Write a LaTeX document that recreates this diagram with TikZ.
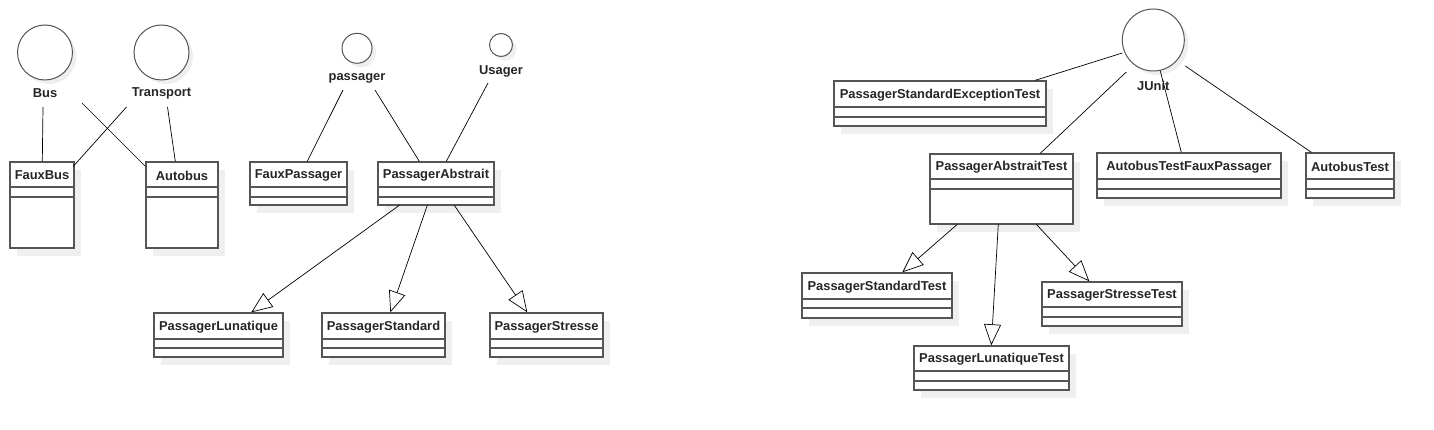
\documentclass[tikz,border=0pt]{standalone}
\usepackage{fontspec}
\setmainfont{Liberation Sans}
\usetikzlibrary{arrows.meta,calc}
\definecolor{shadowc}{HTML}{EFEFEF}
\definecolor{edgec}{HTML}{555555}
\tikzset{
  clsbox/.style={draw=edgec, line width=1.4pt, fill=white, inner sep=0pt, rectangle},
  clstext/.style={inner sep=0pt, font=\fontsize{12.9}{15}\selectfont\bfseries, text=black!85},
  clsline/.style={draw=edgec, line width=1.4pt},
  iface/.style={draw=edgec, line width=1pt, fill=white, circle, inner sep=0pt},
  ifshadow/.style={fill=shadowc, circle, inner sep=0pt},
  iflabel/.style={inner sep=0pt, font=\fontsize{12.9}{15}\selectfont\bfseries, text=black!85},
  assoc/.style={draw=black, line width=0.7pt},
  gen/.style={draw=black, line width=0.7pt, -{Triangle[open, length=21pt, width=17pt, fill=white]}},
}
\newcommand\umlcls[8]{%
  \fill[shadowc] (#2+7,#3+8) rectangle (#4+7,#5+8);
  \node[clsbox, minimum width={#4-#2}, minimum height={#5-#3}] (#1) at ({(#2+#4)/2},{(#3+#5)/2}) {};
  \node[clstext] (#1-t) at ({(#2+#4)/2},{(#3+#6)/2+1}) {#8};
  \draw[clsline] (#2,#6) -- (#4,#6);
  \draw[clsline] (#2,#7) -- (#4,#7);
}
\newcommand\umlif[6]{% name, cx, cy, r, label y, label
  \node[ifshadow, minimum size={2*#4}] at (#2+4,#3+4) {};
  \node[iface, minimum size={2*#4}] (#1) at (#2,#3) {};
  \node[iflabel] (#1-l) at (#2,#5) {#6};
}
\begin{document}
\begin{tikzpicture}[x=1pt,y=-1pt]
\useasboundingbox (0,0) rectangle (1434,430);

% interfaces
\umlif{bus}{45}{52.5}{27.5}{93}{Bus}
\umlif{transport}{161.5}{52.5}{27.5}{93}{Transport}
\umlif{passager}{357}{48.3}{15}{78}{passager}
\umlif{usager}{501}{45}{11.5}{71}{Usager}
\umlif{junit}{1153.3}{40}{31}{86}{JUnit}

% classes
\umlcls{fauxbus}{10}{162}{74}{248}{187}{197}{FauxBus}
\umlcls{autobus}{146}{162}{218}{248}{187}{197}{Autobus}
\umlcls{fauxpassager}{250}{162}{347}{205}{187}{197}{FauxPassager}
\umlcls{pabs}{378}{162}{494}{205}{187}{197}{PassagerAbstrait}
\umlcls{plun}{154}{313}{283}{357}{339}{348}{PassagerLunatique}
\umlcls{pstd}{322}{313}{445}{357}{339}{348}{PassagerStandard}
\umlcls{pstr}{490}{313}{603}{357}{339}{348}{PassagerStresse}
\umlcls{pset}{834}{81}{1046}{126}{107}{117}{PassagerStandardExceptionTest}
\umlcls{pat}{930}{154}{1073}{224}{179}{189}{PassagerAbstraitTest}
\umlcls{atfp}{1097}{153}{1281}{198}{179}{189}{AutobusTestFauxPassager}
\umlcls{at}{1306}{153}{1394}{198}{179}{189}{AutobusTest}
\umlcls{pst}{802}{273}{952}{318}{299}{308}{PassagerStandardTest}
\umlcls{pstrt}{1042}{282}{1182}{326}{307}{317}{PassagerStresseTest}
\umlcls{plt}{914}{346}{1069}{390}{371}{381}{PassagerLunatiqueTest}

% associations
\draw[assoc] ([shift={(-2,14)}]bus-l.center) -- ([shift={(33,0)}]fauxbus.north west);
\draw[assoc] ([shift={(37,10)}]bus-l.center) -- ([shift={(0,5)}]autobus.north west);
\draw[assoc] ([shift={(-35,14)}]transport-l.center) -- ([shift={(64,5)}]fauxbus.north west);
\draw[assoc] ([shift={(6,14)}]transport-l.center) -- ([shift={(30,0)}]autobus.north west);
\draw[assoc] ([shift={(-14,12)}]passager-l.center) -- ([shift={(58,0)}]fauxpassager.north west);
\draw[assoc] ([shift={(18,12)}]passager-l.center) -- ([shift={(42,0)}]pabs.north west);
\draw[assoc] ([shift={(-13,12)}]usager-l.center) -- ([shift={(69,0)}]pabs.north west);
\draw[assoc] ([shift={(-31,13)}]junit.center) -- ([shift={(202,0)}]pset.north west);
\draw[assoc] ([shift={(-27,32)}]junit.center) -- ([shift={(111,0)}]pat.north west);
\draw[assoc] ([shift={(7,31)}]junit.center) -- ([shift={(85,0)}]atfp.north west);
\draw[assoc] ([shift={(32,26)}]junit.center) -- ([shift={(6,0)}]at.north west);

% generalizations
\draw[gen] ([shift={(22,44)}]pabs.north west) -- ([shift={(98,0)}]plun.north west);
\draw[gen] ([shift={(50,44)}]pabs.north west) -- ([shift={(69,0)}]pstd.north west);
\draw[gen] ([shift={(77,44)}]pabs.north west) -- ([shift={(38,0)}]pstr.north west);
\draw[gen] ([shift={(28,71)}]pat.north west) -- ([shift={(101,0)}]pst.north west);
\draw[gen] ([shift={(69,71)}]pat.north west) -- ([shift={(78,0)}]plt.north west);
\draw[gen] ([shift={(107,71)}]pat.north west) -- ([shift={(48,0)}]pstrt.north west);
\end{tikzpicture}
\end{document}
